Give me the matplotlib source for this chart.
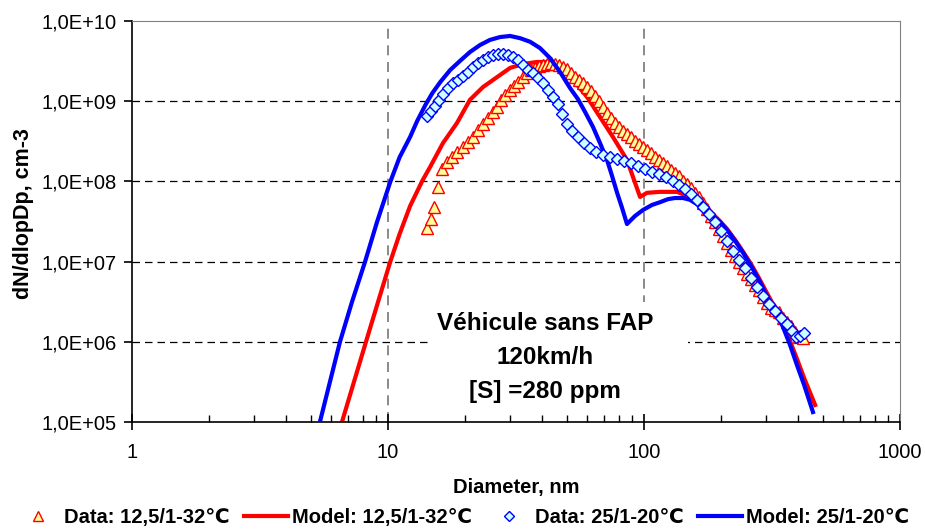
import matplotlib.pyplot as plt
import numpy as np
from matplotlib.ticker import FixedLocator, FuncFormatter, NullFormatter
from matplotlib.patches import Rectangle
from matplotlib.lines import Line2D

plt.rcParams['font.family'] = ['Liberation Sans', 'DejaVu Sans']

# Data: 12,5/1-32°C  (triangles)
d_data1 = [14.2, 14.7, 15.1, 15.7, 16.3, 17.0, 17.8, 18.6, 19.6, 20.5, 21.5, 22.5, 23.5, 24.6,
           25.7, 26.7, 27.6, 28.6, 30.0, 31.1, 32.2, 33.7, 34.9, 36.2, 37.5, 38.9, 40.3, 41.8,
           43.3, 44.9, 46.6, 48.3, 50.0, 51.9, 53.7, 55.7, 57.8, 59.9, 62.1, 64.4, 66.7, 69.2,
           71.7, 74.3, 77.0, 79.8, 82.8, 85.8, 88.9, 92.2, 95.5, 99.1, 102.7, 106.4, 110.4,
           114.5, 118.6, 123, 127.4, 132, 137, 142, 147, 153, 158, 164, 170, 176, 183, 189,
           196, 204, 211, 219, 227, 235, 244, 253, 262, 271, 281, 292, 302, 313, 325, 337,
           349, 362, 375, 389, 403, 418]
n_data1 = [2.62e7, 3.4e7, 4.8e7, 8.5e7, 1.43e8, 1.75e8, 2.0e8, 2.33e8, 2.69e8, 3.1e8, 3.58e8,
           4.4e8, 5.2e8, 6.2e8, 7.3e8, 8.5e8, 1.04e9, 1.19e9, 1.38e9, 1.55e9, 1.73e9, 2.0e9,
           2.25e9, 2.45e9, 2.6e9, 2.75e9, 2.83e9, 2.91e9, 2.99e9, 2.91e9, 2.83e9, 2.67e9,
           2.52e9, 2.25e9, 2.0e9, 1.84e9, 1.69e9, 1.5e9, 1.34e9, 1.16e9, 1.0e9, 8.5e8, 7.1e8,
           6.2e8, 5.35e8, 4.77e8, 4.25e8, 3.9e8, 3.58e8, 3.19e8, 2.92e8, 2.69e8, 2.47e8,
           2.26e8, 2.0e8, 1.85e8, 1.7e8, 1.56e8, 1.39e8, 1.27e8, 1.17e8, 1.01e8, 9.3e7, 8.3e7,
           7.2e7, 6.4e7, 5.4e7, 4.5e7, 3.7e7, 3.1e7, 2.55e7, 2.08e7, 1.71e7, 1.4e7, 1.17e7,
           9.9e6, 8.3e6, 7.0e6, 6.1e6, 5.1e6, 4.4e6, 3.6e6, 3.05e6, 2.64e6, 2.5e6, 2.36e6,
           1.98e6, 1.77e6, 1.57e6, 1.32e6, 1.15e6, 1.11e6]

# Model: 12,5/1-32°C
d_model1 = [6.61, 7.36, 8.2, 9.14, 10.2, 11.1, 12.2, 13.6, 14.6, 16.4, 18.6, 20.9, 23.5, 26.7,
            30.0, 33.7, 38.2, 42.9, 47.0, 52.8, 59.9, 67.3, 75.6, 85.8, 90.6, 96.5, 102.7,
            115.5, 134.5, 151, 161, 173, 186, 198, 211, 227, 244, 262, 281, 302, 325, 349,
            372, 396, 422, 466]
n_model1 = [1.0e5, 3.15e5, 9.96e5, 3.13e6, 9.9e6, 2.21e7, 4.93e7, 1.01e8, 1.51e8, 3.01e8,
            5.35e8, 1.04e9, 1.5e9, 2.0e9, 2.6e9, 2.91e9, 3.08e9, 3.08e9, 2.75e9, 1.84e9,
            1.13e9, 6.35e8, 3.58e8, 1.85e8, 1.13e8, 6.4e7, 7.2e7, 7.4e7, 7.4e7, 6.4e7, 5.5e7,
            4.66e7, 3.9e7, 3.2e7, 2.55e7, 1.86e7, 1.32e7, 9.3e6, 6.25e6, 4.06e6, 2.64e6,
            1.67e6, 1.02e6, 6.1e5, 3.54e5, 1.63e5]

# Data: 25/1-20°C  (diamonds)
d_data2 = [14.2, 14.7, 15.3, 15.8, 16.4, 17.2, 17.9, 18.8, 19.6, 20.5, 21.5, 22.5, 23.5, 24.6,
           25.7, 26.9, 28.1, 29.4, 30.8, 32.2, 33.7, 35.2, 36.8, 38.5, 40.3, 42.2, 44.1, 46.1,
           47.8, 50.0, 52.3, 55.2, 58.3, 61.5, 64.9, 69.2, 73.6, 78.5, 83.5, 88.9, 94.8, 100.9,
           107.4, 114.5, 122, 130, 137, 144.5, 153, 161, 170, 179.5, 189, 200, 211, 223, 235,
           248, 262, 276, 292, 308, 325, 343, 362, 378, 392, 406, 422]
n_data2 = [6.5e8, 7.5e8, 8.7e8, 1.04e9, 1.23e9, 1.46e9, 1.69e9, 1.84e9, 2.06e9, 2.31e9, 2.67e9,
           2.99e9, 3.27e9, 3.56e9, 3.77e9, 3.88e9, 3.88e9, 3.77e9, 3.56e9, 3.27e9, 2.83e9,
           2.45e9, 2.25e9, 1.95e9, 1.69e9, 1.38e9, 1.13e9, 9.2e8, 6.9e8, 5.2e8, 4.25e8, 3.58e8,
           3.01e8, 2.61e8, 2.33e8, 2.13e8, 2.0e8, 1.9e8, 1.8e8, 1.7e8, 1.56e8, 1.43e8, 1.31e8,
           1.24e8, 1.13e8, 1.01e8, 9.0e7, 8.0e7, 7.0e7, 5.9e7, 4.8e7, 3.9e7, 3.1e7, 2.41e7,
           1.81e7, 1.36e7, 1.05e7, 8.3e6, 6.25e6, 4.8e6, 3.7e6, 2.96e6, 2.42e6, 1.98e6, 1.67e6,
           1.36e6, 1.15e6, 1.18e6, 1.29e6]

# Model: 25/1-20°C
d_model2 = [5.42, 5.93, 6.49, 7.23, 8.13, 9.06, 10.2, 11.1, 12.2, 13.0, 14.0, 14.9, 16.0, 17.5,
            19.1, 20.9, 22.9, 25.0, 27.4, 30.0, 32.8, 35.9, 39.2, 42.9, 47.0, 51.4, 55.2, 58.9,
            63.2, 67.3, 71.7, 75.0, 78.5, 82.1, 85.8, 92.2, 99.1, 107.4, 115.5, 124, 132, 142,
            151, 161, 173, 186, 198, 211, 227, 244, 262, 281, 302, 325, 349, 372, 396, 422, 457]
n_model2 = [1.0e5, 3.15e5, 9.96e5, 3.13e6, 9.9e6, 3.12e7, 9.8e7, 2.0e8, 3.58e8, 5.66e8, 8.97e8,
            1.26e9, 1.73e9, 2.45e9, 3.17e9, 4.1e9, 5.02e9, 5.8e9, 6.3e9, 6.5e9, 6.1e9, 5.5e9,
            4.6e9, 3.46e9, 2.31e9, 1.46e9, 1.06e9, 7.3e8, 4.77e8, 3.01e8, 1.85e8, 1.17e8, 7.2e7,
            4.66e7, 2.94e7, 3.7e7, 4.4e7, 5.08e7, 5.5e7, 6.0e7, 6.2e7, 6.2e7, 5.9e7, 5.2e7,
            4.4e7, 3.7e7, 3.1e7, 2.48e7, 1.81e7, 1.28e7, 8.8e6, 5.9e6, 3.7e6, 2.5e6, 1.53e6,
            9.1e5, 5.1e5, 2.9e5, 1.33e5]

labels = ['Data: 12,5/1-32\u2103', 'Model: 12,5/1-32\u2103', 'Data: 25/1-20\u2103', 'Model: 25/1-20\u2103']
x_ticks = [1, 10, 100, 1000]
y_ticks = [1e5, 1e6, 1e7, 1e8, 1e9, 1e10]
note = 'Véhicule sans FAP\n120km/h\n[S] =280 ppm'

fig = plt.figure(figsize=(9.25, 5.32), dpi=100)
ax = fig.add_axes([0.1427, 0.2068, 0.8303, 0.7538])
ax.set_xscale('log')
ax.set_yscale('log')
ax.set_xlim(1, 1000)
ax.set_ylim(1e5, 1e10)

# grid, only inside lines
for v in y_ticks[1:-1]:
    ax.axhline(v, color='black', lw=0.9, ls=(0, (6, 4)), zorder=1)
for v in x_ticks[1:-1]:
    ax.axvline(v, color='#777777', lw=1.2, ls=(0, (6, 4)), zorder=1)

# white text box hides the grid behind the note
ax.add_patch(Rectangle((0.391, 0.0), 0.333, 0.30, transform=ax.transAxes,
                       facecolor='white', edgecolor='none', zorder=1.5))

ax.plot(d_model1, n_model1, color='#FF0000', lw=3, zorder=2)
ax.plot(d_data1, n_data1, ls='none', marker='^', ms=8, mfc='#FFFF99', mec='#FF0000',
        mew=1.0, zorder=3)
ax.plot(d_model2, n_model2, color='#0000FF', lw=3, zorder=4)
ax.plot(d_data2, n_data2, ls='none', marker='D', ms=6.5, mfc='#CCFFFF', mec='#0000FF',
        mew=1.0, zorder=5)

ax.text(0.538, 0.161, note, transform=ax.transAxes, ha='center', va='center',
        fontsize=17.5, fontweight='bold', linespacing=1.6, zorder=6)

ax.spines['top'].set_color('#808080')
ax.spines['right'].set_color('#808080')
ax.spines['left'].set_linewidth(1.2)
ax.spines['bottom'].set_linewidth(1.2)

ax.xaxis.set_major_locator(FixedLocator(x_ticks))
ax.xaxis.set_major_formatter(FuncFormatter(lambda v, p: '%d' % v))
ax.xaxis.set_minor_locator(FixedLocator([m * 10 ** e for e in range(3) for m in range(2, 10)]))
ax.xaxis.set_minor_formatter(NullFormatter())
ax.yaxis.set_major_locator(FixedLocator(y_ticks))
ax.yaxis.set_major_formatter(FuncFormatter(lambda v, p: '1,0E+%02d' % round(np.log10(v))))
ax.yaxis.set_minor_locator(FixedLocator([]))

ax.tick_params(axis='x', which='major', direction='inout', length=12, width=1.2,
               labelsize=14.5, pad=9)
ax.tick_params(axis='x', which='minor', direction='in', length=5, width=1)
ax.tick_params(axis='y', which='major', direction='out', length=6, width=1.2,
               labelsize=14.5, pad=5)

ax.set_xlabel('Diameter, nm', fontsize=14.5, fontweight='bold', labelpad=12)
ax.set_ylabel('dN/dlopDp, cm-3', fontsize=15.5, fontweight='bold')
ax.yaxis.set_label_coords(-0.128, 0.52)

handles = [Line2D([], [], ls='none', marker='^', ms=7, mfc='#FFFF99', mec='#FF0000'),
           Line2D([], [], color='#FF0000', lw=3),
           Line2D([], [], ls='none', marker='D', ms=5.5, mfc='#CCFFFF', mec='#0000FF'),
           Line2D([], [], color='#0000FF', lw=3)]
fig.legend(handles, labels, loc='center', bbox_to_anchor=(0.5, 0.028), ncol=4, frameon=False,
           prop={'weight': 'bold', 'size': 14.5}, handlelength=2.2, handletextpad=0.2,
           columnspacing=0.7, borderaxespad=0)

fig.savefig('out.png', dpi=100)
